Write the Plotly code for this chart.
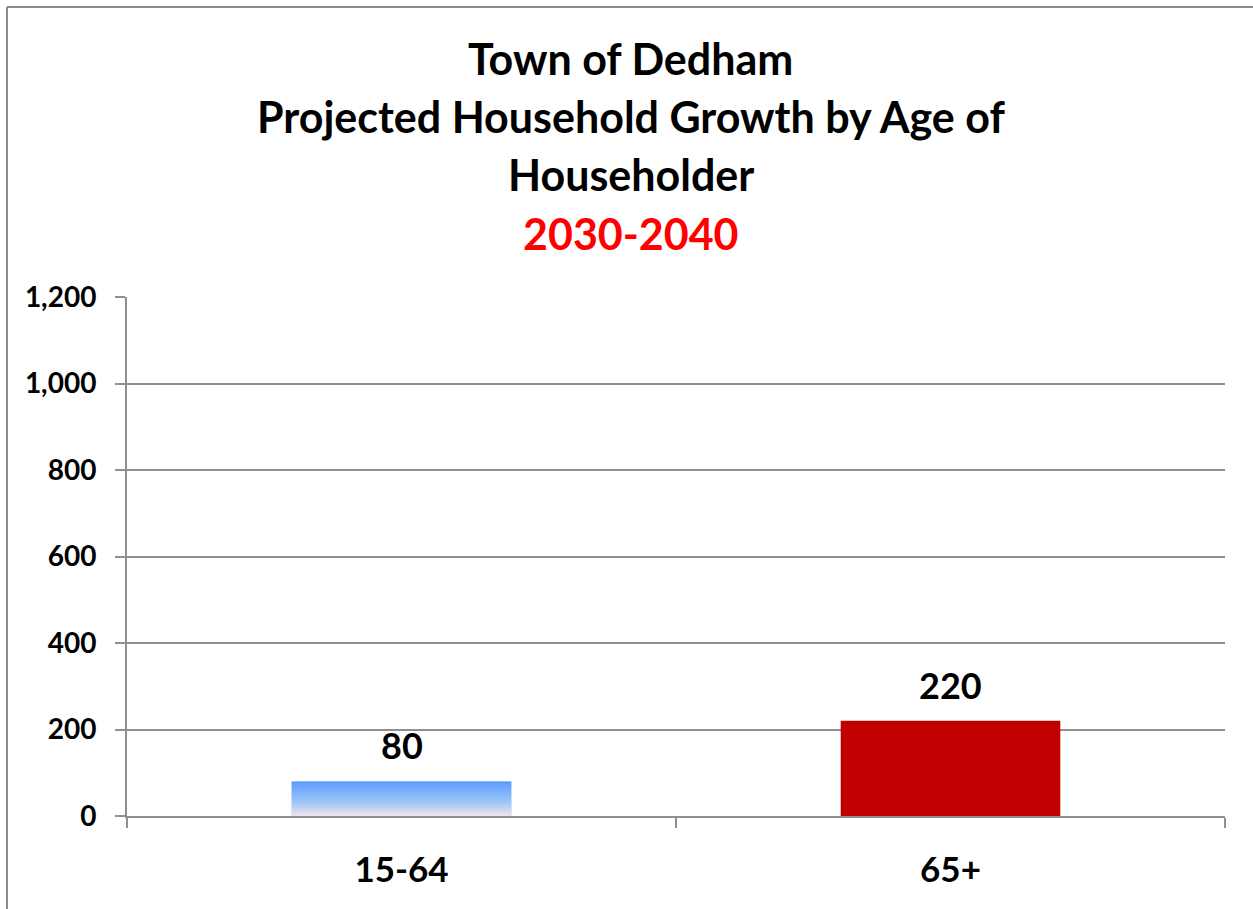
import plotly.graph_objects as go

categories = ["15-64", "65+"]
values = [80, 220]
labels = ["80", "220"]
bar_colors = ["#8fbcf7", "#c00000"]
title_lines = ["Town of Dedham", "Projected Household Growth by Age of", "Householder"]
title_period = "2030-2040"
y_ticks = [0, 200, 400, 600, 800, 1000, 1200]

FONT = "Lato"
GRID = "#8f8f8f"
BAR_W = 0.4
xs = list(range(len(categories)))

fig = go.Figure()
fig.add_trace(go.Bar(x=xs, y=values, width=BAR_W, marker=dict(color=bar_colors, line=dict(width=0)),
                     showlegend=False, hoverinfo="skip"))

# gradient overlay for the first bar
c, v = xs[0], values[0]
fig.add_trace(go.Scatter(
    x=[c - BAR_W / 2, c + BAR_W / 2, c + BAR_W / 2, c - BAR_W / 2, c - BAR_W / 2],
    y=[0, 0, v, v, 0], mode="lines", line=dict(width=0), fill="toself",
    fillgradient=dict(type="vertical", start=0, stop=v,
                      colorscale=[[0, "#f0e4ee"], [0.4, "#9cc6f6"], [1, "#5b9bff"]]),
    showlegend=False, hoverinfo="skip"))

for x, v, t in zip(xs, values, labels):
    fig.add_annotation(x=x, y=v, text=t, showarrow=False, yanchor="middle", yshift=36,
                       font=dict(family=FONT, size=36, color="black", weight="bold"))

title_y = [1.4605, 1.3487, 1.2351]
for line, yy in zip(title_lines, title_y):
    fig.add_annotation(xref="paper", yref="paper", x=0.459, y=yy, text=line, showarrow=False,
                       yanchor="middle", xanchor="center",
                       font=dict(family=FONT, size=43, color="black", weight="bold"))
fig.add_annotation(xref="paper", yref="paper", x=0.459, y=1.1233, text=title_period, showarrow=False,
                   yanchor="middle", xanchor="center",
                   font=dict(family=FONT, size=43, color="#ff0000", weight="bold"))

# outer chart border (left and top edges; the rest lies outside the picture)
BX, BY = -0.1093, 1.5588
fig.add_shape(type="line", xref="paper", yref="paper", x0=BX, x1=BX, y0=-0.3, y1=BY,
              line=dict(color="#8a8a8a", width=2), layer="below")
fig.add_shape(type="line", xref="paper", yref="paper", x0=BX, x1=1.1, y0=BY, y1=BY,
              line=dict(color="#8a8a8a", width=2), layer="below")

fig.update_layout(
    width=1253, height=909,
    margin=dict(l=127, r=28, t=297, b=93),
    paper_bgcolor="white", plot_bgcolor="white",
    bargap=0.6,
    xaxis=dict(range=[-0.5, 1.5], tickvals=xs, ticktext=categories, ticks="",
               showgrid=False, zeroline=False, showline=True, linecolor=GRID, linewidth=2,
               tickfont=dict(family=FONT, size=35, color="black", weight="bold"),
               ticklabelstandoff=22,
               minor=dict(tickvals=[-0.5, 0.5, 1.5], ticks="outside", ticklen=10,
                          tickcolor=GRID, tickwidth=2, showgrid=False)),
    yaxis=dict(range=[0, 1200], tickvals=y_ticks, tickformat=",", ticks="outside", ticklen=10,
               tickcolor=GRID, tickwidth=2, showgrid=True, gridcolor=GRID, gridwidth=2,
               zeroline=False, showline=True, linecolor=GRID, linewidth=2,
               tickfont=dict(family=FONT, size=28, color="black", weight="bold"),
               ticklabelstandoff=13),
)

fig.write_html("out.html", config={"displayModeBar": False},
               post_script="document.body.style.margin='0';document.body.style.overflow='hidden';")
